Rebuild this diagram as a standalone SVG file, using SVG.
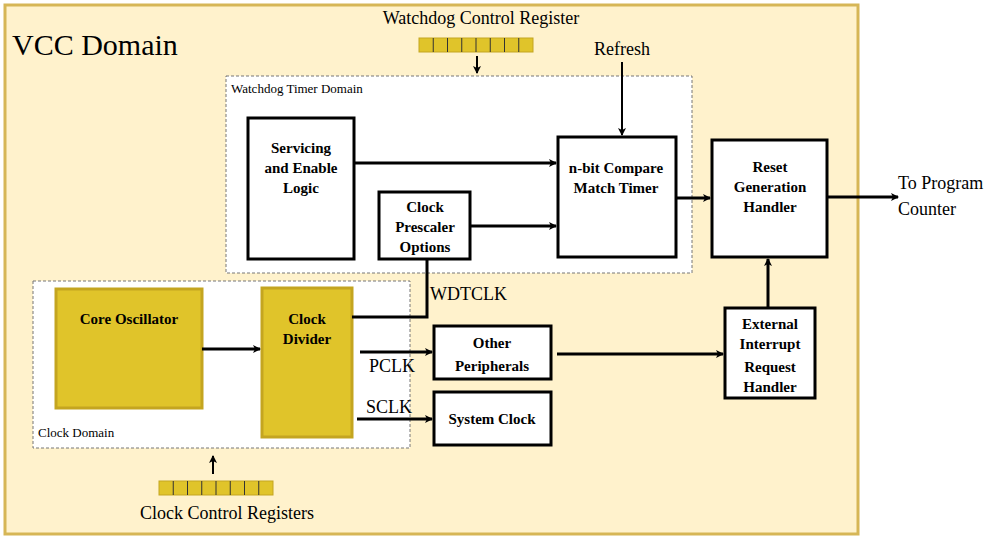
<svg xmlns="http://www.w3.org/2000/svg" width="1000" height="540" viewBox="0 0 1000 540">
<defs>
<marker id="ah" markerWidth="8" markerHeight="8" refX="7" refY="4" orient="auto" markerUnits="userSpaceOnUse"><path d="M0,0 L8,4 L0,8 L2,4 Z" fill="#000"/></marker>
<g id="regbar"><rect x="0" y="0" width="114" height="14" fill="#e0c42a" stroke="#c4a520" stroke-width="1"/><path d="M14.25,0V14M28.5,0V14M42.75,0V14M57,0V14M71.25,0V14M85.5,0V14M99.75,0V14" stroke="#333" stroke-width="1"/></g>
</defs>
<style>
.bx{fill:#fff;stroke:#000;stroke-width:3}
.yb{fill:#e0c42a;stroke:#c4a520;stroke-width:3}
.dom{fill:#fff;stroke:#777;stroke-width:1;stroke-dasharray:3,2}
text{font-family:"Liberation Serif","Times New Roman",serif}
.t{font-size:15px;font-weight:bold;text-anchor:middle}
.n{font-size:18px}
.s{font-size:13px}
.c{stroke:#000;stroke-width:3;fill:none}
.c2{stroke:#000;stroke-width:2;fill:none}
</style>
<rect x="5" y="5" width="853" height="529" fill="#fff2cc" stroke="#d6b656" stroke-width="3"/>
<text x="12" y="55" font-size="30">VCC Domain</text>
<rect class="dom" x="226" y="76" width="466" height="197"/>
<text class="s" x="231" y="93">Watchdog Timer Domain</text>
<rect class="dom" x="33" y="281" width="377" height="167"/>
<text class="s" x="38" y="437">Clock Domain</text>
<g id="wdreg"><use href="#regbar" x="419" y="38"/><text class="n" x="481" y="24" text-anchor="middle">Watchdog Control Register</text></g>
<g id="ckreg"><use href="#regbar" x="159" y="481"/><text class="n" x="227" y="519" text-anchor="middle">Clock Control Registers</text></g>
<text class="n" x="622" y="55" text-anchor="middle">Refresh</text>
<g id="serv"><rect class="bx" x="248" y="118" width="106" height="141"/><text class="t" x="301" y="153">Servicing</text><text class="t" x="301" y="173">and Enable</text><text class="t" x="301" y="193">Logic</text></g>
<g id="pres"><rect class="bx" x="379" y="192" width="91" height="67"/><text class="t" x="425" y="212">Clock</text><text class="t" x="425" y="232">Prescaler</text><text class="t" x="425" y="252">Options</text></g>
<g id="cmp"><rect class="bx" x="558" y="137" width="118" height="120"/><text class="t" x="616" y="173">n-bit Compare</text><text class="t" x="616" y="193">Match Timer</text></g>
<g id="rst"><rect class="bx" x="712" y="140" width="115" height="117"/><text class="t" x="770" y="172">Reset</text><text class="t" x="770" y="192">Generation</text><text class="t" x="770" y="212">Handler</text></g>
<g id="osc"><rect class="yb" x="56" y="289" width="146" height="119"/><text class="t" x="129" y="324">Core Oscillator</text></g>
<g id="div"><rect class="yb" x="262" y="288" width="90" height="149"/><text class="t" x="307" y="324">Clock</text><text class="t" x="307" y="344">Divider</text></g>
<g id="per"><rect class="bx" x="434" y="326" width="117" height="53"/><text class="t" x="492" y="348">Other</text><text class="t" x="492" y="371">Peripherals</text></g>
<g id="sys"><rect class="bx" x="434" y="392" width="117" height="53"/><text class="t" x="492" y="424">System  Clock</text></g>
<g id="ext"><rect class="bx" x="725" y="308" width="90" height="90"/><text class="t" x="770" y="329">External</text><text class="t" x="770" y="349">Interrupt</text><text class="t" x="770" y="372">Request</text><text class="t" x="770" y="392">Handler</text></g>
<text class="n" x="898" y="189">To Program</text><text class="n" x="898" y="215">Counter</text>
<text class="n" x="430" y="300">WDTCLK</text>
<text class="n" x="369" y="372">PCLK</text>
<text class="n" x="366" y="413">SCLK</text>
<g id="connectors">
<line class="c2" x1="477" y1="56" x2="477" y2="73" marker-end="url(#ah)"/>
<line class="c2" x1="622" y1="62" x2="622" y2="135" marker-end="url(#ah)"/>
<line class="c" x1="354" y1="163" x2="556" y2="163" marker-end="url(#ah)"/>
<line class="c" x1="470" y1="226" x2="556" y2="226" marker-end="url(#ah)"/>
<line class="c" x1="676" y1="198" x2="710" y2="198" marker-end="url(#ah)"/>
<line class="c" x1="827" y1="197" x2="898" y2="197" marker-end="url(#ah)"/>
<line class="c" x1="202" y1="349" x2="260" y2="349" marker-end="url(#ah)"/>
<polyline class="c" points="352,317 427,317 427,259"/>
<line class="c" x1="360" y1="352" x2="432" y2="352" marker-end="url(#ah)"/>
<line class="c" x1="357" y1="419" x2="432" y2="419" marker-end="url(#ah)"/>
<line class="c" x1="557" y1="354" x2="723" y2="354" marker-end="url(#ah)"/>
<line class="c" x1="768" y1="308" x2="768" y2="259" marker-end="url(#ah)"/>
<line class="c2" x1="213" y1="474" x2="213" y2="456" marker-end="url(#ah)"/>
</g>
</svg>
